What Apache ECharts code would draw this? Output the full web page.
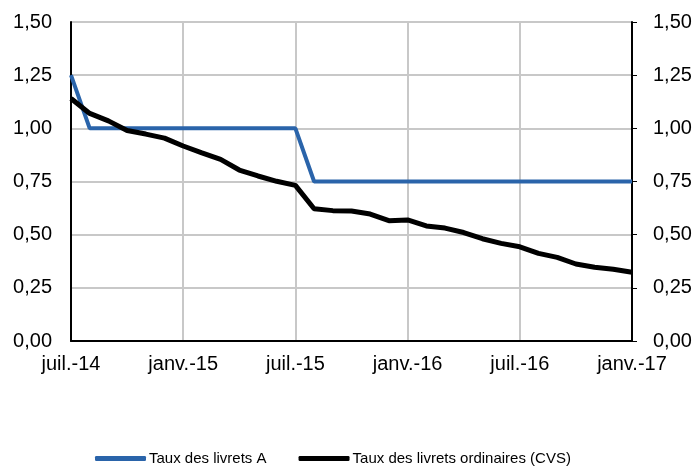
<!DOCTYPE html>
<html>
<head>
<meta charset="utf-8">
<script src="https://cdn.jsdelivr.net/npm/echarts@6/dist/echarts.min.js"></script>
<style>
  html, body { margin: 0; padding: 0; background: #fff; }
  #main { width: 695px; height: 466px; }
</style>
</head>
<body>
<div id="main"></div>
<script>
// mois, de juil. 2014 à janv. 2017
var months = [
  'juil.-14', 'août-14', 'sept.-14', 'oct.-14', 'nov.-14', 'déc.-14',
  'janv.-15', 'févr.-15', 'mars-15', 'avr.-15', 'mai-15', 'juin-15',
  'juil.-15', 'août-15', 'sept.-15', 'oct.-15', 'nov.-15', 'déc.-15',
  'janv.-16', 'févr.-16', 'mars-16', 'avr.-16', 'mai-16', 'juin-16',
  'juil.-16', 'août-16', 'sept.-16', 'oct.-16', 'nov.-16', 'déc.-16',
  'janv.-17'
];
// Taux des livrets A
var livretA = [
  1.25, 1.00, 1.00, 1.00, 1.00, 1.00,
  1.00, 1.00, 1.00, 1.00, 1.00, 1.00,
  1.00, 0.75, 0.75, 0.75, 0.75, 0.75,
  0.75, 0.75, 0.75, 0.75, 0.75, 0.75,
  0.75, 0.75, 0.75, 0.75, 0.75, 0.75,
  0.75
];
// Taux des livrets ordinaires (CVS)
var livretsOrd = [
  1.14, 1.07, 1.035, 0.99, 0.973, 0.954,
  0.917, 0.885, 0.854, 0.804, 0.776, 0.751,
  0.732, 0.622, 0.613, 0.611, 0.597, 0.566,
  0.569, 0.541, 0.531, 0.51, 0.481, 0.459,
  0.443, 0.412, 0.393, 0.362, 0.347, 0.337,
  0.323
];

var chart = echarts.init(document.getElementById('main'));
var txt = { color: '#000', fontFamily: 'Liberation Sans, Arial', fontSize: 20 };

var yLabel = function (v) { return v.toFixed(2).replace('.', ','); };

chart.setOption({
  animation: false,
  grid: { left: 71, right: 63, top: 22, bottom: 125, show: true, borderColor: '#777', borderWidth: 1 },
  legend: {
    left: 95, top: 451, padding: 0,
    icon: 'roundRect', itemWidth: 51, itemHeight: 5, itemGap: 32,
    textStyle: { color: '#000', fontFamily: 'Liberation Sans, Arial', fontSize: 15, padding: [0, 0, 0, -2] },
    data: ['Taux des livrets A', 'Taux des livrets ordinaires (CVS)']
  },
  xAxis: {
    type: 'category',
    data: months,
    boundaryGap: false,
    axisLine: { lineStyle: { color: '#000', width: 2 } },
    axisTick: { show: false },
    axisLabel: Object.assign({ interval: 5, margin: 13 }, txt),
    splitLine: { show: true, interval: 5, lineStyle: { color: '#c8c8c8', width: 2 } }
  },
  yAxis: [{
    type: 'value', min: 0, max: 1.5, interval: 0.25,
    axisLine: { show: true, lineStyle: { color: '#000', width: 2 } },
    axisTick: { show: false },
    axisLabel: Object.assign({ formatter: yLabel, margin: 19 }, txt),
    splitLine: { lineStyle: { color: '#c8c8c8', width: 2 } }
  }, {
    type: 'value', min: 0, max: 1.5, interval: 0.25, position: 'right',
    axisLine: { show: true, lineStyle: { color: '#000', width: 2 } },
    axisTick: { show: true, length: 5, lineStyle: { color: '#000', width: 1 } },
    axisLabel: Object.assign({ formatter: yLabel, margin: 21 }, txt),
    splitLine: { show: false }
  }],
  series: [{
    name: 'Taux des livrets A',
    type: 'line',
    data: livretA,
    symbol: 'none',
    color: '#2a64aa',
    lineStyle: { width: 4, color: '#2a64aa' }
  }, {
    name: 'Taux des livrets ordinaires (CVS)',
    type: 'line',
    data: livretsOrd,
    symbol: 'none',
    color: '#000',
    lineStyle: { width: 5, color: '#000' }
  }]
});
</script>
</body>
</html>
